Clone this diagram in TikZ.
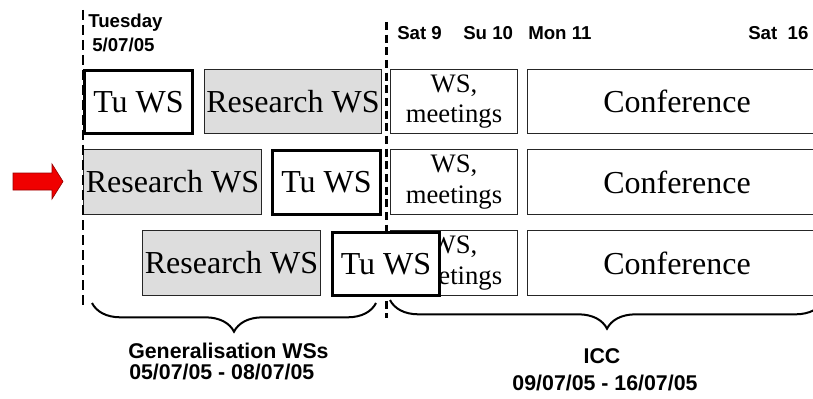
\documentclass[tikz,border=0pt]{standalone}
\usepackage{fontspec}
\setmainfont{Liberation Serif}
\newfontfamily\daysfont{Liberation Sans}
\usepackage{tikz}
\usetikzlibrary{decorations.pathreplacing}

\definecolor{wsgrey}{RGB}{221,221,221}
\definecolor{arrowred}{RGB}{240,0,0}

\begin{document}
\begin{tikzpicture}[x=0.75pt,y=-0.75pt,inner sep=0pt,
  slot/.style={draw=black!85,line width=0.75pt,fill=white,minimum height=48.5pt,font=\fontsize{24}{28}\selectfont},
  tuws/.style={slot,draw=black,line width=2.25pt,minimum width=80.5pt,minimum height=47.25pt},
  resws/.style={slot,fill=wsgrey,minimum width=133pt},
  meet/.style={slot,minimum width=95pt,align=center,font=\fontsize{20}{23}\selectfont},
  conf/.style={slot,minimum width=225pt},
  daylbl/.style={font=\daysfont\bfseries\fontsize{14}{16}\selectfont,anchor=base west},
  spanlbl/.style={font=\daysfont\bfseries\fontsize{16}{19}\selectfont},
  daysep/.style={line width=1.5pt,dash pattern=on 7.5pt off 3.75pt},
  daysepthick/.style={line width=2.25pt,dash pattern=on 6pt off 3.5pt},
  span/.style={decorate,decoration={brace,mirror,amplitude=21.5pt},line width=1.5pt}]

\useasboundingbox (0,0) rectangle (813,399);

% day labels
\node[daylbl] (tuesday) at (88,28) {Tuesday};
\node[daylbl] (tuesdate) at (92,52) {5/07/05};
\foreach \name/\text/\x in {sat9/Sat 9/397, su10/Su 10/463, mon11/Mon 11/528, sat16/{Sat\ \ 16}/748}
\node[daylbl] (\name) at (\x,40) {\text};

% generalisation workshops, rows 1 and 2
\node[tuws] (tu1) at (138.5,102) {Tu WS};
\node[resws] (res1) at (293,101.5) {Research WS};
\node[resws] (res2) at (172.5,182) {Research WS};
\node[tuws] (tu2) at (326.5,182.5) {Tu WS};

% ICC
\foreach \row/\y in {1/101.5, 2/182, 3/263}
{
\node[meet] (meet\row) at (454,\y) {WS,\\meetings};
\node[conf] (conf\row) at (677,\y) {Conference};
}

\coordinate (lefttop) at (83,10);
\coordinate (leftbot) at (83,307);
\coordinate (righttop) at (386.5,22);
\coordinate (rightbot) at (386.5,318);
\draw[daysep] (lefttop) -- (leftbot);
\draw[daysepthick] (righttop) -- (rightbot);

% row 3
\node[resws] (res3) at (231.5,263) {Research WS};
\node[tuws] (tu3) at (386,264) {Tu WS};

% current option
\draw[fill=arrowred,draw=red!60!black,line width=0.5pt] (13,173) -- (52,173) -- (52,164) -- (63,181.5) -- (52,199) -- (52,190) -- (13,190) -- cycle;

% braces
\coordinate (genL) at (92,303);
\coordinate (genR) at (376,303);
\coordinate (iccL) at (390,300);
\coordinate (iccR) at (824,300);
\draw[span] (genL) -- (genR);
\draw[span] (iccL) -- (iccR);

\node[spanlbl,anchor=base west] (genname) at (128,358) {Generalisation WSs};
\node[spanlbl,anchor=base west] (gendates) at (129,379) {05/07/05 - 08/07/05};
\node[spanlbl,anchor=base] (iccname) at (602,363) {ICC};
\node[spanlbl,anchor=base] (iccdates) at (605,390) {09/07/05 - 16/07/05};

\end{tikzpicture}
\end{document}
